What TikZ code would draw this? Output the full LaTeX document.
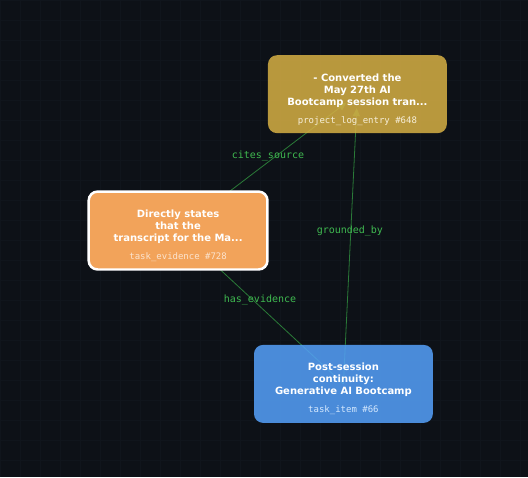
\documentclass[tikz,border=0pt]{standalone}
\usepackage{fontspec}
\setmainfont{DejaVu Sans}
\setmonofont{DejaVu Sans Mono}
\usetikzlibrary{arrows.meta}
\definecolor{bgdark}{HTML}{0D1117}
\definecolor{gridline}{HTML}{10151C}
\definecolor{logfill}{HTML}{D7B044}
\definecolor{evidfill}{HTML}{F2A35A}
\definecolor{taskfill}{HTML}{55A1FB}
\definecolor{edgeline}{HTML}{2A7A38}
\definecolor{edgetext}{HTML}{3FB950}
\newcommand{\subfont}{\normalfont\ttfamily\fontsize{9}{10}\selectfont}
\newcommand{\topgap}{\rule{0pt}{18pt}}
\begin{document}
\begin{tikzpicture}[x=1pt,y=-1pt,
    card/.style={rectangle, rounded corners=9pt, minimum width=179pt, minimum height=78pt,
      align=center, text=white, font=\bfseries\fontsize{10}{12}\selectfont, inner sep=0pt},
    link/.style={edgeline, line width=0.8pt},
    linktext/.style={text=edgetext, font=\ttfamily\fontsize{10}{12}\selectfont}]
  % background and faint grid
  \fill[bgdark] (0,0) rectangle (528,477);
  \foreach \i in {0,20,...,520} {
    \draw[gridline, line width=0.5pt] (\i,0) -- (\i,477);
  }
  \foreach \j in {0,20,...,460} {
    \draw[gridline, line width=0.5pt] (0,\j) -- (528,\j);
  }
  \useasboundingbox (0,0) rectangle (528,477);
  % centres of the cards
  \coordinate (logc) at (357.5,94);
  \coordinate (evidc) at (178,230.5);
  \coordinate (taskc) at (343.5,384);
  % connectors, drawn under the cards
  \draw[link, -{Triangle[length=8pt,width=7pt]}, shorten >=14pt] (evidc) -- (logc);
  \draw[link, -{Triangle[length=8pt,width=7pt]}, shorten >=14pt] (taskc) -- (logc);
  \draw[link] (taskc) -- (evidc);
  % cards
  \node[card, fill=logfill, fill opacity=0.85, text opacity=1] (logentry) at (logc)
    {\topgap- Converted the\\May 27th AI\\Bootcamp session tran...\\[6pt]
     {\subfont\color{white!80!logfill}project\_log\_entry \#648}};
  \node[card, fill=evidfill, draw=white, line width=2.5pt] (evidence) at (evidc)
    {\topgap Directly states\\that the\\transcript for the Ma...\\[6pt]
     {\subfont\color{white!70!evidfill}task\_evidence \#728}};
  \node[card, fill=taskfill, fill opacity=0.85, text opacity=1] (taskitem) at (taskc)
    {\topgap Post-session\\continuity:\\Generative AI Bootcamp\\[6pt]
     {\subfont\color{white!75!taskfill}task\_item \#66}};
  % edge labels
  \node[linktext] (citeslbl) at (268,156) {cites\_source};
  \node[linktext] (groundlbl) at (350,231) {grounded\_by};
  \node[linktext] (haslbl) at (260,300) {has\_evidence};
\end{tikzpicture}
\end{document}
